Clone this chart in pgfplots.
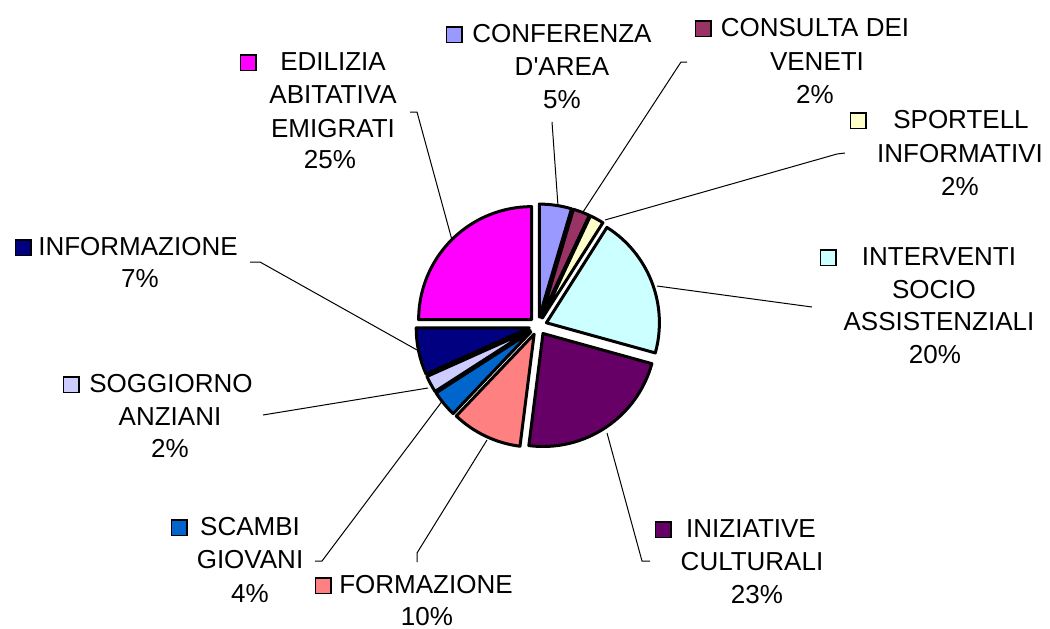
\documentclass[border=0pt]{standalone}
\usepackage{pgfplots}
\pgfplotsset{compat=1.18}
\usepackage{fontspec}
\setmainfont{Liberation Sans}
\definecolor{cConf}{HTML}{9999FF}
\definecolor{cCons}{HTML}{993366}
\definecolor{cSport}{HTML}{FFFFCC}
\definecolor{cInterv}{HTML}{CCFFFF}
\definecolor{cIniz}{HTML}{660066}
\definecolor{cForm}{HTML}{FF8080}
\definecolor{cScambi}{HTML}{0066CC}
\definecolor{cSogg}{HTML}{CCCCFF}
\definecolor{cInfo}{HTML}{000080}
\definecolor{cEdil}{HTML}{FF00FF}
\newcommand{\lbl}{\fontsize{13}{16}\selectfont}
\newcommand{\key}[1]{{\setlength\fboxrule{0.6pt}\setlength\fboxsep{0pt}\fcolorbox{black}{#1}{\rule{0pt}{7.2pt}\hspace*{7.2pt}}}}
% slice: start percent, end percent, colour
\newcommand{\slice}[3]{\fill[#3, draw=black, line width=1.5pt, line join=round] (axis cs:538,326) ++({90-1.8*(#1+#2)}:4.5pt) -- ++({90-3.6*#1}:56.5pt) arc[start angle={90-3.6*#1}, end angle={90-3.6*#2}, radius=56.5pt] -- cycle;}
\newcommand{\lab}[3]{\node[anchor=base, font=\lbl, inner sep=0pt] at (axis cs:#1,#2) {#3};}
\newcommand{\keyat}[3]{\node[anchor=base east, inner sep=0pt] at (axis cs:#1,#2) {\key{#3}};}
\begin{document}
\begin{tikzpicture}
\begin{axis}[hide axis, scale only axis, width=525pt, height=314pt,
  xmin=0, xmax=1050, ymin=0, ymax=628, y dir=reverse, clip=false]
\path (axis cs:0,0) rectangle (axis cs:1050,628);
% leader lines
\begin{scope}[line width=0.5pt, black]
\draw (axis cs:552,122) -- (axis cs:558,206);
\draw (axis cs:410,112) -- (axis cs:417,112) -- (axis cs:452,240);
\draw (axis cs:687,62) -- (axis cs:681,62) -- (axis cs:583,212);
\draw (axis cs:845,153) -- (axis cs:837,154) -- (axis cs:605,220);
\draw (axis cs:812,307) -- (axis cs:657,286);
\draw (axis cs:650,561) -- (axis cs:642,561) -- (axis cs:607,433);
\draw (axis cs:417,562) -- (axis cs:417,553) -- (axis cs:487,440);
\draw (axis cs:315,561) -- (axis cs:322,561) -- (axis cs:443,400);
\draw (axis cs:263,415) -- (axis cs:428,388);
\draw (axis cs:250,262) -- (axis cs:260,262) -- (axis cs:417,350);
\end{scope}
% pie slices (cumulative percentages)
\slice{0}{4.6}{cConf}
\slice{4.6}{7.0}{cCons}
\slice{7.0}{9.0}{cSport}
\slice{9.0}{29.3}{cInterv}
\slice{29.3}{52.0}{cIniz}
\slice{52.0}{62.1}{cForm}
\slice{62.1}{65.9}{cScambi}
\slice{65.9}{68.3}{cSogg}
\slice{68.3}{75.0}{cInfo}
\slice{75.0}{100}{cEdil}
% labels
\keyat{463}{42}{cConf}
\lab{562}{42}{CONFERENZA}
\lab{562}{75}{D\textquotesingle AREA}
\lab{562}{108}{5\%}
\keyat{712}{36}{cCons}
\lab{815}{36}{CONSULTA DEI}
\lab{817}{70}{VENETI}
\lab{815}{103}{2\%}
\keyat{867}{128}{cSport}
\lab{961}{128}{SPORTELL}
\lab{960}{162}{INFORMATIVI}
\lab{960}{195}{2\%}
\keyat{837}{265}{cInterv}
\lab{939}{265}{INTERVENTI}
\lab{934}{298}{SOCIO}
\lab{939}{330}{ASSISTENZIALI}
\lab{935}{363}{20\%}
\keyat{672}{537}{cIniz}
\lab{751}{537}{INIZIATIVE}
\lab{752}{570}{CULTURALI}
\lab{757}{603}{23\%}
\keyat{332}{593}{cForm}
\lab{426}{593}{FORMAZIONE}
\lab{427}{625}{10\%}
\keyat{188}{535}{cScambi}
\lab{250}{535}{SCAMBI}
\lab{250}{568}{GIOVANI}
\lab{250}{602}{4\%}
\keyat{80}{392}{cSogg}
\lab{171}{392}{SOGGIORNO}
\lab{170}{425}{ANZIANI}
\lab{170}{457}{2\%}
\keyat{32}{255}{cInfo}
\lab{138}{255}{INFORMAZIONE}
\lab{140}{287}{7\%}
\keyat{257}{70}{cEdil}
\lab{333}{70}{EDILIZIA}
\lab{333}{103}{ABITATIVA}
\lab{333}{137}{EMIGRATI}
\lab{330}{168}{25\%}
\end{axis}
\end{tikzpicture}
\end{document}
